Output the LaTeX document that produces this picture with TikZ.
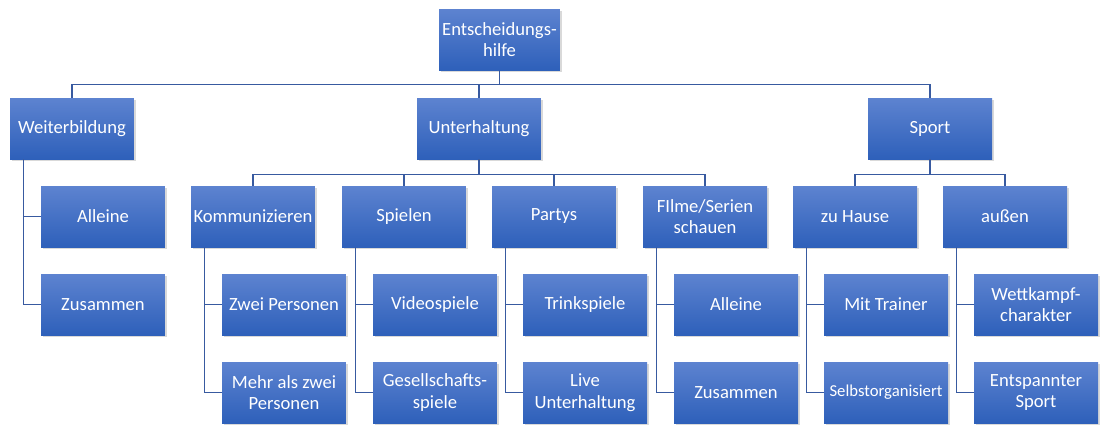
\documentclass[tikz,border=0pt]{standalone}
\usepackage{fontspec}
\setmainfont{Carlito}
\usetikzlibrary{shadows}
\definecolor{boxtop}{RGB}{93,131,208}
\definecolor{boxbot}{RGB}{46,96,186}
\definecolor{linkblue}{RGB}{56,90,160}
\begin{document}
\begin{tikzpicture}[
  x=0.02cm, y=-0.02cm,
  box/.style={rectangle, top color=boxtop, bottom color=boxbot, draw=none,
    text=white, font=\fontsize{10.6}{12.2}\selectfont, align=center,
    minimum width=2.48cm, minimum height=1.22cm, inner sep=1pt,
    drop shadow={opacity=0.3, shadow xshift=1.2pt, shadow yshift=-1.2pt}},
  link/.style={draw=linkblue, line width=0.8pt}
]
  \useasboundingbox (0,0) rectangle (1104,434);

  % --- Wurzel und erste Ebene ---
  \node[box, minimum width=2.42cm] (root) at (499.5,39.5) {Entscheidungs-\\hilfe};
  \node[box] (wb)    at (72,128.5)  {Weiterbildung};
  \node[box] (unt)   at (479,128.5) {Unterhaltung};
  \node[box] (sport) at (930,128.5) {Sport};

  \draw[link] (root.south) -- ++(0,14) -| (wb.north);
  \draw[link] (root.south) -- ++(0,14) -| (unt.north);
  \draw[link] (root.south) -- ++(0,14) -| (sport.north);

  % --- Weiterbildung ---
  \node[box] (wb1) at (103,216.5) {Alleine};
  \node[box] (wb2) at (103,304.5) {Zusammen};

  \draw[link] ([xshift=0.28cm]wb.south west) |- (wb1.west);
  \draw[link] ([xshift=0.28cm]wb.south west) |- (wb2.west);

  % --- Unterhaltung ---
  \node[box] (kom)   at (253,216.5) {Kommunizieren};
  \node[box] (spl)   at (404,216.5) {Spielen};
  \node[box] (party) at (554,216.5) {Partys};
  \node[box] (film)  at (705,216.5) {FIlme/Serien\\schauen};

  \draw[link] (unt.south) -- ++(0,15) -| (kom.north);
  \draw[link] (unt.south) -- ++(0,15) -| (spl.north);
  \draw[link] (unt.south) -- ++(0,15) -| (party.north);
  \draw[link] (unt.south) -- ++(0,15) -| (film.north);

  \node[box] (kom1)   at (284,304.5) {Zwei Personen};
  \node[box] (kom2)   at (284,392.5) {Mehr als zwei\\Personen};
  \node[box] (spl1)   at (435,304.5) {Videospiele};
  \node[box] (spl2)   at (435,392.5) {Gesellschafts-\\spiele};
  \node[box] (party1) at (585,304.5) {Trinkspiele};
  \node[box] (party2) at (585,392.5) {Live\\Unterhaltung};
  \node[box] (film1)  at (736,304.5) {Alleine};
  \node[box] (film2)  at (736,392.5) {Zusammen};

  \draw[link] ([xshift=0.28cm]kom.south west) |- (kom1.west);
  \draw[link] ([xshift=0.28cm]kom.south west) |- (kom2.west);
  \draw[link] ([xshift=0.28cm]spl.south west) |- (spl1.west);
  \draw[link] ([xshift=0.28cm]spl.south west) |- (spl2.west);
  \draw[link] ([xshift=0.28cm]party.south west) |- (party1.west);
  \draw[link] ([xshift=0.28cm]party.south west) |- (party2.west);
  \draw[link] ([xshift=0.28cm]film.south west) |- (film1.west);
  \draw[link] ([xshift=0.28cm]film.south west) |- (film2.west);

  % --- Sport ---
  \node[box] (home) at (855,216.5)  {zu Hause};
  \node[box] (out)  at (1005,216.5) {außen};

  \draw[link] (sport.south) -- ++(0,15) -| (home.north);
  \draw[link] (sport.south) -- ++(0,15) -| (out.north);

  \node[box] (home1) at (886,304.5)  {Mit Trainer};
  \node[box, font=\fontsize{9.5}{11}\selectfont] (home2) at (886,392.5) {Selbstorganisiert};
  \node[box] (out1)  at (1036,304.5) {Wettkampf-\\charakter};
  \node[box] (out2)  at (1036,392.5) {Entspannter\\Sport};

  \draw[link] ([xshift=0.28cm]home.south west) |- (home1.west);
  \draw[link] ([xshift=0.28cm]home.south west) |- (home2.west);
  \draw[link] ([xshift=0.28cm]out.south west) |- (out1.west);
  \draw[link] ([xshift=0.28cm]out.south west) |- (out2.west);
\end{tikzpicture}
\end{document}
